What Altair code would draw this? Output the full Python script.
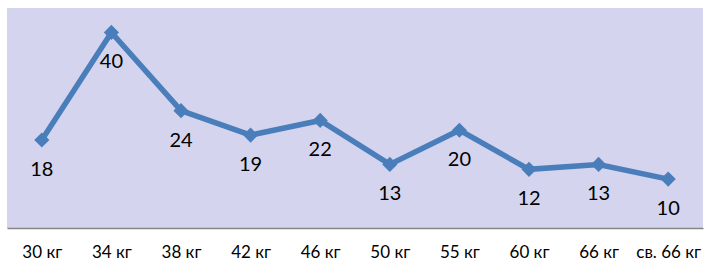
import altair as alt
import pandas as pd

categories = ["30 кг", "34 кг", "38 кг", "42 кг", "46 кг", "50 кг", "55 кг", "60 кг", "66 кг", "св. 66 кг"]
values = [18, 40, 24, 19, 22, 13, 20, 12, 13, 10]

df = pd.DataFrame({"cat": categories, "val": values})

x = alt.X("cat:N", sort=categories, title=None,
          scale=alt.Scale(paddingInner=0, paddingOuter=0),
          axis=alt.Axis(labelAngle=0, ticks=False, labelPadding=16, labelFont="Lato",
                        labelFontSize=17, labelColor="#000000", domainColor="#868686",
                        domainWidth=1.5))
y = alt.Y("val:Q", scale=alt.Scale(domain=[0, 45], nice=False), axis=None)

base = alt.Chart(df).encode(x=x, y=y)
line = base.mark_line(color="#4A7EBB", strokeWidth=5.5)
pts = base.mark_point(shape="diamond", filled=True, size=230, color="#4A7EBB", opacity=1)
txt = base.mark_text(dy=30, baseline="middle", font="Lato", fontSize=20, color="#000000").encode(text="val:Q")

chart = (line + pts + txt).properties(
    width=696, height=220, autosize="none",
    padding={"left": 7, "top": 8, "right": 7, "bottom": 42},
).configure_view(fill="#D4D4EE", stroke=None)

chart.save("out.html", embed_options={"renderer": "svg", "actions": False})
